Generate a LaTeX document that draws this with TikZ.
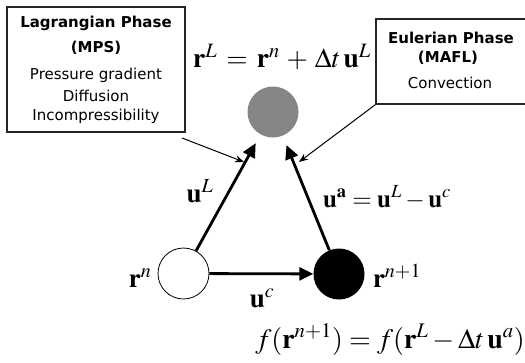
\documentclass[tikz,border=0pt]{standalone}
\usepackage{mathptmx}
\usepackage[no-math]{fontspec}
\newfontfamily\boxfont{DejaVu Sans}
\usetikzlibrary{arrows.meta}
\tikzset{
  infobox/.style={draw=black!85, line width=1.4pt, fill=white, inner sep=0pt},
  boxtitle/.style={font=\boxfont\bfseries\fontsize{15}{17}\selectfont},
  boxtext/.style={font=\boxfont\fontsize{15}{17}\selectfont},
  particle/.style={circle, minimum size=51pt, inner sep=0pt},
  thickarrow/.style={line width=2.8pt, -{Triangle[length=14pt,width=13pt]}},
  thinarrow/.style={line width=1pt, -{Stealth[length=9pt,width=7pt]}},
  mathlbl/.style={font=\fontsize{27}{31}\selectfont, inner sep=0pt, anchor=base},
}
\begin{document}
\begin{tikzpicture}[x=1pt,y=-1pt]
\useasboundingbox (0,0) rectangle (525,362);
% boxes
\node[infobox, minimum width=178pt, minimum height=125pt] (lbox) at (96,69.5) {};
\node[boxtitle] (l1) at (96,23) {Lagrangian Phase};
\node[boxtitle] (l2) at (96,48) {(MPS)};
\node[boxtext] (l3) at (96,75) {Pressure gradient};
\node[boxtext] (l4) at (96,96) {Diffusion};
\node[boxtext] (l5) at (96,116) {Incompressibility};
\node[infobox, minimum width=152pt, minimum height=85pt] (rbox) at (452,61.5) {};
\node[boxtitle] (r1) at (451,38) {Eulerian Phase};
\node[boxtitle] (r2) at (448,58) {(MAFL)};
\node[boxtext] (r3) at (450,83) {Convection};
% particles
\node[particle, fill=black!48] (g) at (273,112) {};
\node[particle, draw=black, line width=0.8pt, fill=white] (w) at (183.5,273.5) {};
\node[particle, fill=black] (b) at (339,274) {};
% arrows
\draw[thickarrow, shorten >=10pt] (w) -- (g);
\draw[thickarrow, shorten >=10pt] (b) -- (g);
\draw[thickarrow] (w) -- (b);
\coordinate (la) at (182,138);
\coordinate (lt) at (244,162);
\coordinate (rt) at (299,162);
\draw[thinarrow] (la) -- (lt);
\draw[thinarrow] (rbox.south west) -- (rt);
% labels
\node[mathlbl, font=\fontsize{27.5}{32}\selectfont] (eqtop) at (282,67) {$\mathbf{r}^L\,=\,\mathbf{r}^n\,+\,\Delta t\,\mathbf{u}^L$};
\node[mathlbl] (uL) at (200,202) {$\mathbf{u}^L$};
\node[mathlbl, font=\fontsize{25}{29}\selectfont] (ua) at (387,207) {$\mathbf{u}^{\mathbf{a}}=\mathbf{u}^L-\mathbf{u}^c$};
\node[mathlbl] (rn) at (140,287) {$\mathbf{r}^n$};
\node[mathlbl] (rn1) at (397,287) {$\mathbf{r}^{n+1}$};
\node[mathlbl] (uc) at (262,307) {$\mathbf{u}^c$};
\node[mathlbl, font=\fontsize{28}{32}\selectfont] (feq) at (390,348) {$f(\mathbf{r}^{n+1})=f(\mathbf{r}^L-\Delta t\,\mathbf{u}^a)$};
\end{tikzpicture}
\end{document}
